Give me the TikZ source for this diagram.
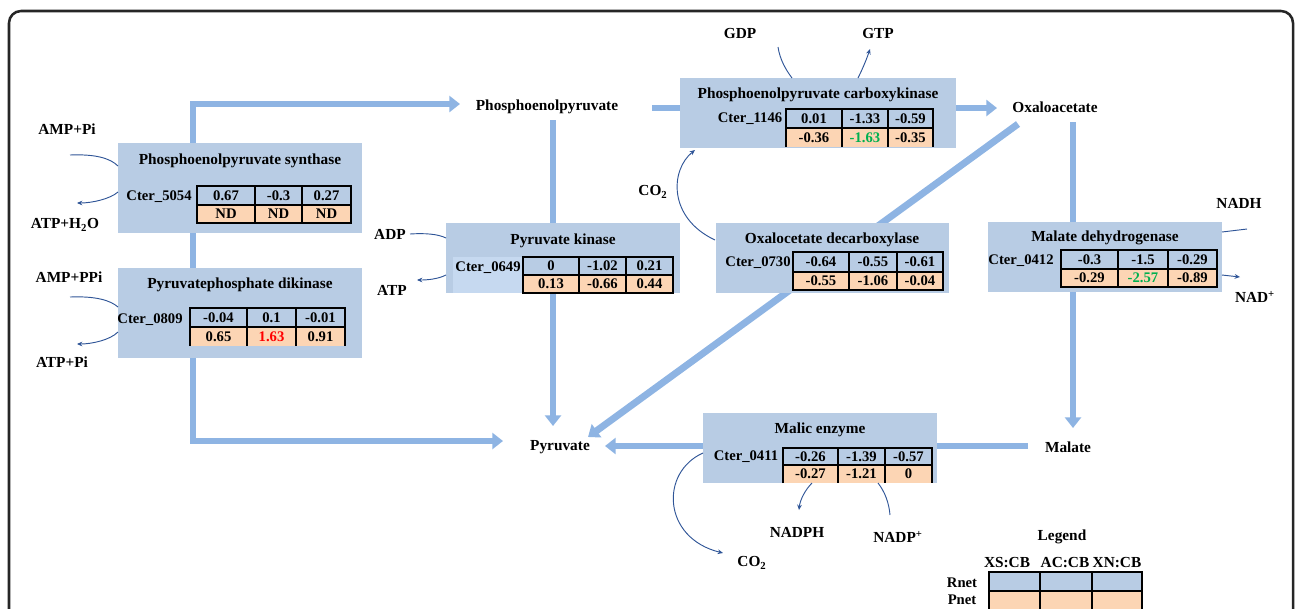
\documentclass[tikz,border=0pt]{standalone}
\usepackage{fontspec}
\setmainfont{Liberation Serif}
\usetikzlibrary{arrows.meta,fit}

\definecolor{flowblue}{RGB}{142,180,227}
\definecolor{boxblue}{RGB}{184,204,228}
\definecolor{pnetpeach}{RGB}{252,213,180}
\definecolor{thinblue}{RGB}{47,85,151}
\definecolor{upred}{RGB}{255,0,0}
\definecolor{downgreen}{RGB}{0,176,80}
\definecolor{framegray}{RGB}{38,38,38}
\definecolor{pkpatch}{RGB}{198,217,240}

\newcommand\lblfont{\fontsize{11.5}{13}\selectfont\bfseries}
\newcommand\valfont{\fontsize{11}{12}\selectfont\bfseries}

\tikzset{
  x=0.75pt, y=-0.75pt,
  flowline/.style={draw=flowblue, line width=5.2pt, line join=miter},
  flowtip/.style={-{Triangle[width=12pt,length=8pt]}},
  enzbox/.style={fill=boxblue, draw=none, inner sep=0pt},
  ttl/.style={font=\lblfont, inner sep=0pt},
  lbl/.style={font=\lblfont, inner sep=0pt},
  gene/.style={font=\valfont, inner sep=0pt},
  val/.style={font=\valfont, inner sep=0pt},
  grid/.style={draw=black, line width=1.8pt},
  thin/.style={draw=thinblue, line width=0.7pt},
  thinarrow/.style={thin, -{Stealth[length=4pt,width=3.5pt]}},
  frame/.style={draw=framegray, line width=1.9pt, rounded corners=9pt},
}

% expression table: name, x0, x1, x2, x3, y0, y1, y2, closed bottom (1) or open (0)
\newcommand\ktab[9]{%
  \fill[boxblue] (#2,#6) rectangle (#5,#7);
  \fill[pnetpeach] (#2,#7) rectangle (#5,#8);
  \ifnum#9=1
    \draw[grid] (#2,#6) rectangle (#5,#8);
  \else
    \draw[grid] (#2,#8) -- (#2,#6) -- (#5,#6) -- (#5,#8);
  \fi
  \draw[grid] (#3,#6) -- (#3,#8) (#4,#6) -- (#4,#8) (#2,#7) -- (#5,#7);
  \coordinate (#1-a) at ({(#2+#3)/2},{(#6+#7)/2});
  \coordinate (#1-b) at ({(#3+#4)/2},{(#6+#7)/2});
  \coordinate (#1-c) at ({(#4+#5)/2},{(#6+#7)/2});
  \coordinate (#1-d) at ({(#2+#3)/2},{(#7+#8)/2});
  \coordinate (#1-e) at ({(#3+#4)/2},{(#7+#8)/2});
  \coordinate (#1-f) at ({(#4+#5)/2},{(#7+#8)/2});
}
% values: name, Rnet row (3), Pnet row (3)
\newcommand\kvals[7]{%
  \node[val] (#1-va) at (#1-a) {#2};
  \node[val] (#1-vb) at (#1-b) {#3};
  \node[val] (#1-vc) at (#1-c) {#4};
  \node[val] (#1-vd) at (#1-d) {#5};
  \node[val] (#1-ve) at (#1-e) {#6};
  \node[val] (#1-vf) at (#1-f) {#7};
}

\begin{document}
\begin{tikzpicture}
\useasboundingbox (0,0) rectangle (1295,608);

% outer frame
\draw[frame] (9,11) rectangle (1293,650);

% metabolites
\node[lbl] (pep) at (547,107) {Phosphoenolpyruvate};
\node[lbl] (oaa) at (1055,107) {Oxaloacetate};
\node[lbl] (pyr) at (560,447) {Pyruvate};
\node[lbl] (mal) at (1068,447) {Malate};

% main flux arrows
\coordinate (loopT) at (193,104);
\coordinate (loopB) at (193,441);
\coordinate (pepW) at (460,104);
\coordinate (pyrW) at (503,441);
\draw[flowline, {Triangle[width=12pt,length=8pt]}-{Triangle[width=12pt,length=8pt]}]
  (pepW) -- (loopT) -- (loopB) -- (pyrW);

\coordinate (pepS) at (553,120);
\coordinate (pyrN) at (553,426);
\draw[flowline, flowtip] (pepS) -- (pyrN);

\coordinate (pepE) at (652,108);
\coordinate (oaaW) at (997,108);
\draw[flowline, flowtip] (pepE) -- (oaaW);

\coordinate (oaaSW) at (1018,124);
\coordinate (pyrNE) at (588,437);
\draw[flowline, flowtip] (oaaSW) -- (pyrNE);

\coordinate (oaaS) at (1073,122);
\coordinate (malN) at (1073,428);
\draw[flowline, flowtip] (oaaS) -- (malN);

\coordinate (malW) at (1028,446);
\coordinate (pyrE) at (605,446);
\draw[flowline, flowtip] (malW) -- (pyrE);

% enzyme boxes
\node[enzbox, fit={(118,143) (362,233)}] (peps) {};
\node[enzbox, fit={(118,268) (362,358)}] (ppdk) {};
\node[enzbox, fit={(446,223) (680,293)}] (pk) {};
\fill[pkpatch] (453,257) rectangle (523,293);
\node[enzbox, fit={(680,78) (956,148)}] (pepck) {};
\node[enzbox, fit={(716,223) (949,293)}] (oad) {};
\node[enzbox, fit={(988,222) (1222,292)}] (mdh) {};
\node[enzbox, fit={(703,413) (937,483)}] (me) {};

% enzyme names
\node[ttl] (pepsT) at (240,161) {Phosphoenolpyruvate synthase};
\node[ttl] (ppdkT) at (240,285) {Pyruvatephosphate dikinase};
\node[ttl] (pkT) at (563,241) {Pyruvate kinase};
\node[ttl] (pepckT) at (818,95) {Phosphoenolpyruvate carboxykinase};
\node[ttl] (oadT) at (832,240) {Oxalocetate decarboxylase};
\node[ttl] (mdhT) at (1105,238) {Malate dehydrogenase};
\node[ttl] (meT) at (820,430) {Malic enzyme};

% gene ids
\node[gene] (pepsG) at (159,197) {Cter\_5054};
\node[gene] (ppdkG) at (150,320) {Cter\_0809};
\node[gene] (pkG) at (488,268) {Cter\_0649};
\node[gene] (pepckG) at (750,119) {Cter\_1146};
\node[gene] (oadG) at (758,263) {Cter\_0730};
\node[gene] (mdhG) at (1021,261) {Cter\_0412};
\node[gene] (meG) at (746,457) {Cter\_0411};

% expression tables
\ktab{tpeps}{197}{255}{302}{351}{186}{205}{223}{1}
\kvals{tpeps}{0.67}{-0.3}{0.27}{ND}{ND}{ND}
\ktab{tppdk}{190}{247}{296}{345}{308}{327}{346}{0}
\kvals{tppdk}{-0.04}{0.1}{-0.01}{0.65}{\textcolor{upred}{1.63}}{0.91}
\ktab{tpk}{523}{579}{626}{673}{257}{275}{293}{1}
\kvals{tpk}{0}{-1.02}{0.21}{0.13}{-0.66}{0.44}
\ktab{tpepck}{786}{842}{888}{933}{109}{128}{147}{0}
\kvals{tpepck}{0.01}{-1.33}{-0.59}{-0.36}{\textcolor{downgreen}{-1.63}}{-0.35}
\ktab{toad}{793}{849}{897}{943}{252}{272}{290}{1}
\kvals{toad}{-0.64}{-0.55}{-0.61}{-0.55}{-1.06}{-0.04}
\ktab{tmdh}{1061}{1118}{1168}{1217}{250}{269}{287}{1}
\kvals{tmdh}{-0.3}{-1.5}{-0.29}{-0.29}{\textcolor{downgreen}{-2.57}}{-0.89}
\ktab{tme}{783}{838}{885}{932}{448}{465}{483}{0}
\kvals{tme}{-0.26}{-1.39}{-0.57}{-0.27}{-1.21}{0}

% cofactors
\node[lbl] (ampPi) at (67,129) {AMP+Pi};
\node[lbl] (atpH2O) at (65,225) {ATP+H\textsubscript{2}O};
\node[lbl] (ampPPi) at (69,277) {AMP+PPi};
\node[lbl] (atpPi) at (62,362) {ATP+Pi};
\node[lbl] (gdp) at (740,33) {GDP};
\node[lbl] (gtp) at (878,33) {GTP};
\node[lbl] (co2a) at (653,192) {CO\textsubscript{2}};
\node[lbl] (adp) at (390,234) {ADP};
\node[lbl] (atp) at (392,290) {ATP};
\node[lbl] (nadh) at (1239,203) {NADH};
\node[lbl] (nad) at (1255,297) {NAD\textsuperscript{+}};
\node[lbl] (nadph) at (797,532) {NADPH};
\node[lbl] (nadp) at (898,537) {NADP\textsuperscript{+}};
\node[lbl] (co2b) at (752,563) {CO\textsubscript{2}};

% cofactor arrows
\coordinate (a1s) at (70,155);  \coordinate (a1e) at (118,166);
\draw[thin] (a1s) .. controls (95,154) and (110,158) .. (a1e);
\coordinate (a2s) at (118,192); \coordinate (a2e) at (77,203);
\draw[thinarrow] (a2s) .. controls (110,199) and (92,203) .. (a2e);
\coordinate (a3s) at (70,297);  \coordinate (a3e) at (118,307);
\draw[thin] (a3s) .. controls (95,296) and (110,300) .. (a3e);
\coordinate (a4s) at (118,332); \coordinate (a4e) at (77,344);
\draw[thinarrow] (a4s) .. controls (110,340) and (92,344) .. (a4e);

\coordinate (g1s) at (778,47);  \coordinate (g1e) at (792,78);
\draw[thin] (g1s) .. controls (780,60) and (786,70) .. (g1e);
\coordinate (g2s) at (858,78);  \coordinate (g2e) at (870,49);
\draw[thinarrow] (g2s) .. controls (863,68) and (867,58) .. (g2e);

\coordinate (c1s) at (715,240); \coordinate (c1e) at (695,150);
\draw[thinarrow] (c1s) .. controls (668,218) and (670,170) .. (c1e);

\coordinate (k1s) at (410,234); \coordinate (k1e) at (446,238);
\draw[thin] (k1s) .. controls (425,233) and (438,234) .. (k1e);
\coordinate (k2s) at (446,275); \coordinate (k2e) at (417,280);
\draw[thinarrow] (k2s) .. controls (438,279) and (428,280) .. (k2e);

\coordinate (m1s) at (1222,232); \coordinate (m1e) at (1247,229);
\draw[thin] (m1s) -- (m1e);
\coordinate (m2s) at (1222,275); \coordinate (m2e) at (1240,277);
\draw[thinarrow] (m2s) -- (m2e);

\coordinate (e1s) at (703,453); \coordinate (e1e) at (723,553);
\draw[thinarrow] (e1s) .. controls (660,472) and (662,538) .. (e1e);
\coordinate (e2s) at (812,483); \coordinate (e2e) at (799,510);
\draw[thinarrow] (e2s) .. controls (805,490) and (800,500) .. (e2e);
\coordinate (e3s) at (878,483); \coordinate (e3e) at (890,515);
\draw[thin] (e3s) .. controls (885,492) and (889,503) .. (e3e);

% legend
\node[lbl] (legT) at (1062,537) {Legend};
\node[lbl] (legXS) at (1007,563) {XS:CB};
\node[lbl] (legAC) at (1065,563) {AC:CB};
\node[lbl] (legXN) at (1117,563) {XN:CB};
\node[gene] (legR) at (962,583) {Rnet};
\node[gene] (legP) at (962,600) {Pnet};
\ktab{tleg}{989}{1040}{1092}{1142}{572}{591}{612}{1}
\end{tikzpicture}
\end{document}
